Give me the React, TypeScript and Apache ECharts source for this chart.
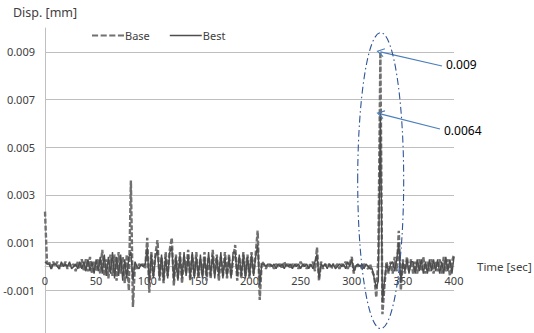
import React, { useEffect, useRef } from "react";
import * as echarts from "echarts";

// Sampling of the displacement records (seconds)
const TIME_START = 0;
const TIME_STEP = 2;

// Base response [mm], one value every 2 s from 0 to 400 s
const BASE_VALUES = [
  0.0023, 0.0001, 0.0002, -0.0001, 0.0002, 0.0000, 0.0002, -0.0001, 0.0001, 0.0000,
  0.0002, -0.0001, 0.0001, 0.0000, 0.0001, -0.0002, 0.0002, -0.0001, 0.0003, -0.0002,
  0.0003, -0.0002, 0.0004, -0.0003, 0.0002, -0.0002, 0.0003, -0.0003, 0.0007, -0.0004,
  0.0003, -0.0005, 0.0005, -0.0004, 0.0005, -0.0006, 0.0006, -0.0003, 0.0004, -0.0007,
  0.0005, -0.0010, 0.0036, -0.0017, 0.0001, -0.0001, 0.0001, 0.0000, 0.0001, -0.0001,
  0.0012, -0.0011, 0.0006, -0.0004, 0.0005, 0.0011, -0.0006, 0.0004, -0.0007, 0.0006,
  -0.0004, 0.0007, 0.0012, -0.0008, 0.0005, -0.0005, 0.0006, -0.0007, 0.0004, -0.0003,
  0.0007, -0.0006, 0.0005, -0.0004, 0.0006, -0.0005, 0.0003, -0.0004, 0.0006, -0.0006,
  0.0004, -0.0005, 0.0007, -0.0003, 0.0005, -0.0006, 0.0004, -0.0004, 0.0006, -0.0005,
  0.0005, -0.0004, 0.0003, 0.0009, -0.0006, 0.0004, -0.0005, 0.0006, -0.0004, 0.0005,
  -0.0005, 0.0006, -0.0003, 0.0005, 0.0015, -0.0014, 0.0002, 0.0001, -0.0001, 0.0001,
  0.0000, 0.0001, -0.0001, 0.0001, 0.0000, 0.0001, -0.0001, 0.0002, 0.0000, 0.0001,
  -0.0001, 0.0001, 0.0000, 0.0001, -0.0001, 0.0002, 0.0000, 0.0001, -0.0001, 0.0001,
  0.0000, 0.0002, -0.0002, 0.0008, -0.0006, 0.0002, -0.0001, 0.0001, 0.0000, 0.0001,
  -0.0001, 0.0001, 0.0000, 0.0001, -0.0001, 0.0001, 0.0000, 0.0002, -0.0001, 0.0001,
  0.0004, -0.0003, 0.0001, 0.0000, 0.0001, -0.0001, 0.0001, 0.0000, -0.0001, 0.0001,
  -0.0002, -0.0004, -0.0013, 0.0004, 0.0090, -0.0020, -0.0008, 0.0002, -0.0003, 0.0002,
  -0.0003, 0.0004, -0.0002, 0.0015, -0.0010, 0.0003, -0.0003, 0.0004, -0.0002, 0.0003,
  -0.0003, 0.0002, -0.0003, 0.0003, -0.0002, 0.0004, -0.0003, 0.0002, -0.0002, 0.0003,
  -0.0003, 0.0002, -0.0002, 0.0003, -0.0003, 0.0004, -0.0002, 0.0003, -0.0004, 0.0002,
  0.0005,
];

// Best response [mm], same sampling
const BEST_VALUES = [
  0.0002, 0.0001, 0.0001, -0.0001, 0.0001, 0.0001, 0.0000, -0.0001, 0.0002, 0.0000,
  0.0001, 0.0000, 0.0002, -0.0001, 0.0000, 0.0001, -0.0001, 0.0002, -0.0001, 0.0002,
  -0.0002, 0.0003, -0.0002, 0.0002, -0.0003, 0.0003, -0.0002, 0.0004, -0.0003, 0.0005,
  -0.0004, 0.0004, -0.0003, 0.0006, -0.0005, 0.0004, -0.0004, 0.0005, -0.0006, 0.0003,
  -0.0005, 0.0004, 0.0006, -0.0006, 0.0002, 0.0000, -0.0001, 0.0001, 0.0000, 0.0001,
  0.0008, -0.0007, 0.0005, -0.0005, 0.0004, 0.0007, -0.0005, 0.0005, -0.0006, 0.0004,
  -0.0005, 0.0006, 0.0008, -0.0006, 0.0004, -0.0006, 0.0005, -0.0005, 0.0006, -0.0004,
  0.0005, -0.0005, 0.0006, -0.0005, 0.0004, -0.0004, 0.0005, -0.0005, 0.0004, -0.0004,
  0.0006, -0.0004, 0.0005, -0.0005, 0.0004, -0.0004, 0.0006, -0.0005, 0.0004, -0.0004,
  0.0004, -0.0005, 0.0006, 0.0006, -0.0004, 0.0005, -0.0004, 0.0005, -0.0005, 0.0004,
  -0.0004, 0.0005, -0.0004, 0.0004, 0.0009, -0.0008, 0.0001, 0.0001, 0.0000, 0.0001,
  0.0001, 0.0000, 0.0001, -0.0001, 0.0001, 0.0000, 0.0001, -0.0001, 0.0001, 0.0000,
  0.0001, -0.0001, 0.0001, 0.0000, 0.0001, -0.0001, 0.0001, 0.0000, 0.0001, -0.0001,
  0.0001, -0.0001, 0.0002, 0.0005, -0.0005, 0.0001, 0.0000, 0.0001, -0.0001, 0.0001,
  0.0000, 0.0001, -0.0001, 0.0000, 0.0001, 0.0000, 0.0001, -0.0001, 0.0002, 0.0000,
  0.0003, -0.0002, 0.0000, 0.0001, 0.0000, 0.0001, -0.0001, 0.0001, 0.0000, -0.0001,
  -0.0001, -0.0005, -0.0009, -0.0006, 0.0064, -0.0015, -0.0006, 0.0001, -0.0002, 0.0001,
  0.0002, -0.0002, 0.0003, 0.0010, -0.0007, 0.0002, -0.0002, 0.0003, -0.0003, 0.0002,
  0.0002, -0.0003, 0.0003, -0.0002, 0.0003, -0.0003, 0.0002, -0.0003, 0.0003, -0.0002,
  0.0003, -0.0002, 0.0003, -0.0003, 0.0002, -0.0003, 0.0004, -0.0002, 0.0003, -0.0003,
  0.0004,
];

const SERIES_NAMES = ["Base", "Best"];
const Y_MIN = -0.003;
const Y_MAX = 0.01;
const Y_INTERVAL = 0.002;
const Y_TICKS = [-0.001, 0.001, 0.003, 0.005, 0.007, 0.009];
const X_MIN = 0;
const X_MAX = 400;
const X_TICK_INTERVAL = 50;

// Annotated peaks
const PEAK_TIME = 328;
const PEAK_BASE = 0.009;
const PEAK_BEST = 0.0064;
const PEAK_LABELS = ["0.009", "0.0064"];

const FONT = "'Noto Sans', 'Open Sans', sans-serif";
const TEXT_COLOR = "#404040";
const GRID_COLOR = "#bfbfbf";
const ANNOT_COLOR = "#4a7ebb";
const CHEVRON = "path://M5,0 L10,9 L8.9,9.7 L5,2.4 L1.1,9.7 L0,9 Z";
const ICON_DASHED =
  "path://M0,0 h6 v2 h-6 Z M8.5,0 h6 v2 h-6 Z M17,0 h6 v2 h-6 Z M25.5,0 h6 v2 h-6 Z";
const ICON_SOLID = "path://M0,0 h31.5 v1.4 h-31.5 Z";

export default function App() {
  const ref = useRef<HTMLDivElement>(null);

  useEffect(() => {
    if (!ref.current) return;
    const chart = echarts.init(ref.current, null, { renderer: "svg" });

    const toPairs = (vals: number[]) =>
      vals.map((v, i) => [TIME_START + i * TIME_STEP, v]);

    const option: any = {
      animation: false,
      textStyle: { fontFamily: FONT },
      grid: { left: 45, right: 80, top: 28, bottom: -5, containLabel: false, outerBoundsMode: "none" },
      legend: {
        data: [
          { name: SERIES_NAMES[0], icon: ICON_DASHED },
          { name: SERIES_NAMES[1], icon: ICON_SOLID },
        ],
        left: 87,
        top: 25,
        itemWidth: 32,
        itemHeight: 10,
        itemGap: 20,
        textStyle: { fontSize: 11, color: TEXT_COLOR, fontFamily: FONT, padding: [0, 0, 0, -4] },
      },
      xAxis: {
        type: "value",
        min: X_MIN,
        max: X_MAX,
        interval: X_TICK_INTERVAL,
        name: "Time [sec]",
        nameLocation: "end",
        nameGap: 23,
        nameTextStyle: { fontSize: 11.5, color: TEXT_COLOR },
        axisLine: { show: true, onZero: false, lineStyle: { color: GRID_COLOR } },
        axisTick: { show: false },
        splitLine: { show: false },
        axisLabel: { fontSize: 11, color: TEXT_COLOR, margin: 9 },
      },
      yAxis: {
        type: "value",
        min: Y_MIN,
        max: Y_MAX,
        interval: Y_INTERVAL,
        axisLine: { show: true, lineStyle: { color: GRID_COLOR } },
        axisTick: { show: false },
        splitLine: {
          show: true,
          showMinLine: false,
          showMaxLine: false,
          lineStyle: { color: GRID_COLOR, width: 1 },
        },
        axisLabel: {
          fontSize: 11,
          color: TEXT_COLOR,
          margin: 10,
          formatter: (v: number) => {
            const t = Y_TICKS.find((k) => Math.abs(k - v) < 1e-7);
            return t === undefined ? "" : t.toFixed(3);
          },
        },
      },
      series: [
        {
          name: SERIES_NAMES[0],
          type: "line",
          data: toPairs(BASE_VALUES),
          showSymbol: false,
          symbol: "none",
          z: 3,
          color: "#707070",
          lineStyle: { color: "#707070", width: 2.4, type: [5, 2] },
        },
        {
          name: SERIES_NAMES[1],
          type: "line",
          data: toPairs(BEST_VALUES),
          showSymbol: false,
          symbol: "none",
          z: 4,
          color: "#4d4d4d",
          lineStyle: { color: "#4d4d4d", width: 1.4, type: "solid" },
        },
        {
          name: "annotations",
          type: "line",
          data: [],
          z: 6,
          silent: true,
          markLine: {
            silent: true,
            symbol: ["none", CHEVRON],
            symbolSize: [9, 8],
            label: { show: false },
            lineStyle: { color: ANNOT_COLOR, type: "solid", width: 1.1 },
            data: [
              [{ x: 442, y: 66 }, { coord: [PEAK_TIME, PEAK_BASE] }],
              [{ x: 440, y: 129 }, { coord: [PEAK_TIME, PEAK_BEST] }],
            ],
          },
        },
      ],
    };

    chart.setOption(option);

    // move the time axis onto the zero line of the displacement axis
    const zeroY = chart.convertToPixel({ yAxisIndex: 0 }, 0) as number;
    const bottomY = chart.convertToPixel({ yAxisIndex: 0 }, Y_MIN) as number;
    chart.setOption({ xAxis: { offset: -(bottomY - zeroY) } });

    const c = chart.convertToPixel({ xAxisIndex: 0, yAxisIndex: 0 }, [PEAK_TIME + 0.3, 0.0036]) as number[];
    const yAxisX = chart.convertToPixel({ xAxisIndex: 0 }, X_MIN) as number;
    chart.setOption({
      graphic: [
        {
          type: "ellipse",
          z: 10,
          silent: true,
          shape: { cx: c[0], cy: c[1], rx: 23, ry: 148 },
          style: {
            fill: "none",
            stroke: "#2f5597",
            lineWidth: 1.1,
            lineDash: [7, 3, 1.5, 3],
          },
        },
        {
          type: "text",
          x: yAxisX,
          y: 12,
          z: 10,
          style: {
            text: "Disp. [mm]",
            fontSize: 12.5,
            fill: TEXT_COLOR,
            fontFamily: FONT,
            align: "center",
            verticalAlign: "middle",
          },
        },
        {
          type: "text",
          left: 446,
          top: 58,
          z: 10,
          style: { text: PEAK_LABELS[0], fontSize: 12, fill: "#000", fontFamily: FONT },
        },
        {
          type: "text",
          left: 444,
          top: 124,
          z: 10,
          style: { text: PEAK_LABELS[1], fontSize: 12, fill: "#000", fontFamily: FONT },
        },
      ],
    });

    return () => chart.dispose();
  }, []);

  return (
    <div
      ref={ref}
      style={{ position: "absolute", left: 0, top: 0, width: 534, height: 333 }}
    />
  );
}
